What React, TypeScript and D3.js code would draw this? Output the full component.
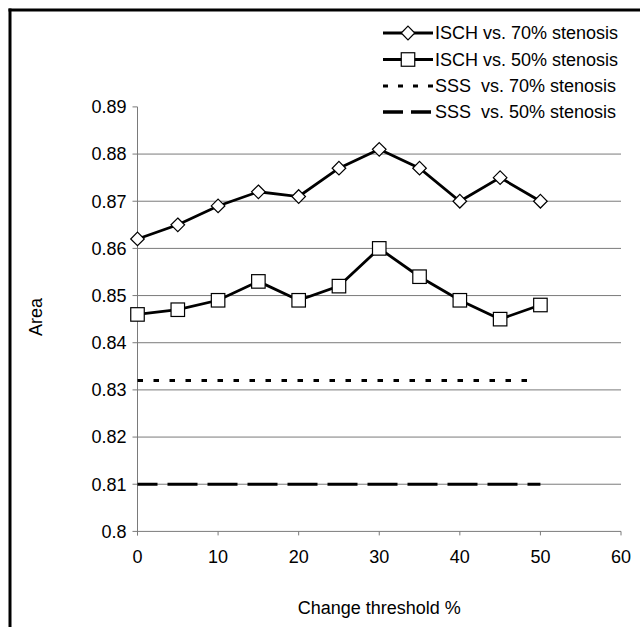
import React from "react";
import * as d3 from "d3";

const thresholds = [0, 5, 10, 15, 20, 25, 30, 35, 40, 45, 50];
const isch70 = [0.862, 0.865, 0.869, 0.872, 0.871, 0.877, 0.881, 0.877, 0.87, 0.875, 0.87];
const isch50 = [0.846, 0.847, 0.849, 0.853, 0.849, 0.852, 0.86, 0.854, 0.849, 0.845, 0.848];
const sss70X = [0, 49];
const sss70 = [0.832, 0.832];
const sss50X = [0, 50];
const sss50 = [0.81, 0.81];
const xTicks = [0, 10, 20, 30, 40, 50, 60];
const yTicks = [0.8, 0.81, 0.82, 0.83, 0.84, 0.85, 0.86, 0.87, 0.88, 0.89];
const gridTicks = [0.81, 0.82, 0.83, 0.84, 0.85, 0.86, 0.87, 0.88];
const legendLabels = ["ISCH vs. 70% stenosis", "ISCH vs. 50% stenosis", "SSS  vs. 70% stenosis", "SSS  vs. 50% stenosis"];

const W = 640;
const H = 627;
const FONT = "'Liberation Sans', Arial, sans-serif";
const FS = 18;

export default function App() {
  const x = d3.scaleLinear().domain([0, 60]).range([137.5, 621]);
  const y = d3.scaleLinear().domain([0.8, 0.89]).range([531.4, 106.9]);
  const line = d3
    .line<[number, number]>()
    .x((d) => x(d[0]))
    .y((d) => y(d[1]));
  const p70 = thresholds.map((t, i) => [t, isch70[i]] as [number, number]);
  const p50 = thresholds.map((t, i) => [t, isch50[i]] as [number, number]);
  const s70 = sss70X.map((t, i) => [t, sss70[i]] as [number, number]);
  const s50 = sss50X.map((t, i) => [t, sss50[i]] as [number, number]);
  const diamond = (cx: number, cy: number, r = 6.8) =>
    `M${cx},${cy - r}L${cx + r},${cy}L${cx},${cy + r}L${cx - r},${cy}Z`;
  const sq = 13.5;

  const legY = [33, 59.5, 86, 112];
  const lx1 = 383;
  const lx2 = 433;
  const lmid = (lx1 + lx2) / 2;

  return (
    <svg
      width={W}
      height={H}
      style={{ position: "absolute", left: 0, top: 0, background: "#fff" }}
      fontFamily={FONT}
    >
      <rect x={0} y={0} width={W} height={H} fill="#fff" />
      {/* frame */}
      <line x1={8.5} y1={10} x2={W} y2={10} stroke="#000" strokeWidth={3} />
      <line x1={10} y1={8.5} x2={10} y2={H} stroke="#000" strokeWidth={3} />

      {/* gridlines */}
      {gridTicks.map((t) => (
        <line key={t} x1={x(0)} x2={x(60)} y1={y(t)} y2={y(t)} stroke="#7a7a7a" strokeWidth={1} />
      ))}
      {/* x axis */}
      <line x1={x(0)} x2={x(60)} y1={y(0.8)} y2={y(0.8)} stroke="#7a7a7a" strokeWidth={1} />
      {xTicks.map((t) => (
        <g key={t}>
          <line x1={x(t)} x2={x(t)} y1={y(0.8)} y2={y(0.8) + 4} stroke="#7a7a7a" />
          <text x={x(t)} y={y(0.8) + 32} textAnchor="middle" fontSize={FS} fill="#000">
            {t}
          </text>
        </g>
      ))}
      {/* y axis */}
      <line x1={x(0)} x2={x(0)} y1={y(0.89)} y2={y(0.8) + 4} stroke="#7a7a7a" strokeWidth={1} />
      {yTicks.map((t) => (
        <g key={t}>
          <line x1={x(0) - 5} x2={x(0)} y1={y(t)} y2={y(t)} stroke="#7a7a7a" />
          <text x={x(0) - 11} y={y(t)} dy="0.35em" textAnchor="end" fontSize={FS} fill="#000">
            {d3.format(".2~f")(t)}
          </text>
        </g>
      ))}

      {/* SSS lines */}
      <path d={line(s70) || ""} fill="none" stroke="#000" strokeWidth={3} strokeDasharray="5.5 10.5" />
      <path d={line(s50) || ""} fill="none" stroke="#000" strokeWidth={3} strokeDasharray="30 10" strokeDashoffset={10} />

      {/* ISCH lines */}
      <path d={line(p70) || ""} fill="none" stroke="#000" strokeWidth={2.8} />
      <path d={line(p50) || ""} fill="none" stroke="#000" strokeWidth={2.8} />
      {p70.map((d, i) => (
        <path key={i} d={diamond(x(d[0]), y(d[1]))} fill="#fff" stroke="#000" strokeWidth={1.2} />
      ))}
      {p50.map((d, i) => (
        <rect
          key={i}
          x={x(d[0]) - sq / 2}
          y={y(d[1]) - sq / 2}
          width={sq}
          height={sq}
          fill="#fff"
          stroke="#000"
          strokeWidth={1.2}
        />
      ))}

      {/* axis titles */}
      <text x={(x(0) + x(60)) / 2} y={614} textAnchor="middle" fontSize={FS} fill="#000">
        Change threshold %
      </text>
      <text transform={`translate(42,317) rotate(-90)`} textAnchor="middle" fontSize={FS} fill="#000">
        Area
      </text>

      {/* legend */}
      <g>
        <line x1={lx1} x2={lx2} y1={legY[0]} y2={legY[0]} stroke="#000" strokeWidth={2.8} />
        <path d={diamond(lmid, legY[0])} fill="#fff" stroke="#000" strokeWidth={1.2} />
        <line x1={lx1} x2={lx2} y1={legY[1]} y2={legY[1]} stroke="#000" strokeWidth={2.8} />
        <rect x={lmid - sq / 2} y={legY[1] - sq / 2} width={sq} height={sq} fill="#fff" stroke="#000" strokeWidth={1.2} />
        <line x1={lx1} x2={lx2} y1={legY[2]} y2={legY[2]} stroke="#000" strokeWidth={3} strokeDasharray="5 10" />
        <line x1={lx1} x2={lx2} y1={legY[3]} y2={legY[3]} stroke="#000" strokeWidth={3.5} strokeDasharray="20 8" />
        {legendLabels.map((l, i) => (
          <text
            key={i}
            x={lx2 + 2}
            y={legY[i]}
            dy="0.35em"
            fontSize={FS}
            fill="#000"
            style={{ whiteSpace: "pre" }}
          >
            {l}
          </text>
        ))}
      </g>
    </svg>
  );
}
